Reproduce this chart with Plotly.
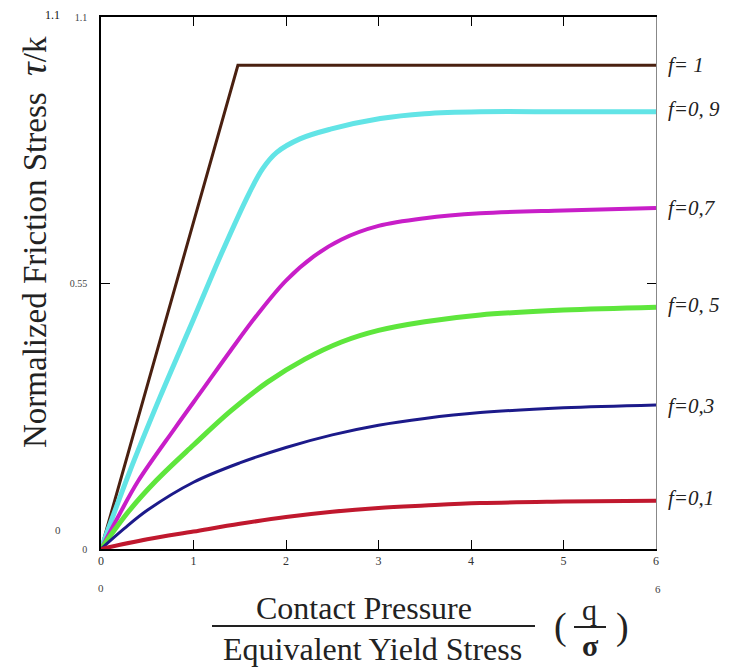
import plotly.graph_objects as go

# ---- data ----
x_f10 = [0, 1.48, 6]
y_f10 = [0, 1.0, 1.0]

x_f09 = [0, 0.3, 0.64, 1.0, 1.3, 1.6, 1.75, 1.9, 2.15, 2.48, 3.02, 3.5, 4.1, 5.0, 6.0]
y_f09 = [0, 0.155, 0.315, 0.475, 0.61, 0.735, 0.787, 0.82, 0.848, 0.868, 0.89, 0.9, 0.904, 0.904, 0.904]

x_f07 = [0, 0.2, 0.4, 0.8, 1.1, 1.4, 1.7, 2.0, 2.3, 2.6, 3.0, 3.5, 4.1, 5.0, 6.0]
y_f07 = [0, 0.072, 0.14, 0.25, 0.33, 0.41, 0.487, 0.555, 0.605, 0.64, 0.668, 0.684, 0.694, 0.70, 0.705]

x_f05 = [0, 0.3, 0.6, 1.0, 1.4, 1.8, 2.2, 2.6, 3.0, 3.5, 4.1, 5.0, 6.0]
y_f05 = [0, 0.078, 0.142, 0.215, 0.285, 0.345, 0.392, 0.428, 0.452, 0.47, 0.484, 0.494, 0.50]

x_f03 = [0, 0.25, 0.5, 1.0, 1.5, 2.0, 2.5, 3.0, 3.5, 4.1, 5.0, 6.0]
y_f03 = [0, 0.042, 0.08, 0.138, 0.178, 0.21, 0.236, 0.256, 0.27, 0.282, 0.292, 0.298]

x_f01 = [0, 0.5, 1.0, 1.5, 2.0, 2.5, 3.0, 3.5, 4.1, 5.0, 6.0]
y_f01 = [0, 0.02, 0.036, 0.052, 0.066, 0.077, 0.085, 0.09, 0.095, 0.098, 0.10]

labels = ["f= 1", "f=0, 9", "f=0,7", "f=0, 5", "f=0,3", "f=0,1"]
label_y = [1.0, 0.91, 0.705, 0.505, 0.295, 0.105]

x_ticks = [0, 1, 2, 3, 4, 5, 6]
y_ticks = [0, 0.55, 1.1]
y_ticktext = ["0", "0.55", "1.1"]

series = [
    (x_f10, y_f10, "#4a2010", 3, "linear"),
    (x_f09, y_f09, "#62e4e6", 5, "spline"),
    (x_f07, y_f07, "#c81ec8", 4, "spline"),
    (x_f05, y_f05, "#5ee63c", 5, "spline"),
    (x_f03, y_f03, "#1c1a8a", 3, "spline"),
    (x_f01, y_f01, "#c0182e", 4, "spline"),
]

fig = go.Figure()
for xs, ys, col, w, shp in series:
    fig.add_trace(go.Scatter(x=xs, y=ys, mode="lines",
                             line=dict(color=col, width=w, shape=shp, smoothing=1.0),
                             showlegend=False, hoverinfo="skip"))

# invisible trace so the right-hand y axis is drawn
fig.add_trace(go.Scatter(x=[0], y=[0], yaxis="y2", mode="markers",
                         marker=dict(opacity=0), showlegend=False, hoverinfo="skip"))

SERIF = "Liberation Serif, Times New Roman, serif"

# page body has an 8px margin: work in screen pixels and shift
OFF = 8
W, H = 739 - OFF, 667 - OFF
L, T = 101 - OFF, 17 - OFF
pw, ph = 555, 532
R, B = W - L - pw, H - T - ph


def px(x):
    return (x - OFF - L) / pw


def py(y):
    return (H - B - (y - OFF)) / ph


fig.update_layout(
    width=W, height=H,
    margin=dict(l=L, r=R, t=T, b=B, autoexpand=False),
    paper_bgcolor="white", plot_bgcolor="white",
    xaxis=dict(range=[0, 6], tickvals=x_ticks, ticks="inside", ticklen=9,
               tickcolor="black", showline=True, linecolor="black", linewidth=1.5,
               mirror="ticks", showgrid=False, zeroline=False,
               tickfont=dict(family=SERIF, size=12, color="#333")),
    yaxis=dict(range=[0, 1.1], tickvals=y_ticks, ticktext=y_ticktext, ticks="inside",
               ticklen=9, tickcolor="black", showline=True, linecolor="black",
               linewidth=1.5, showgrid=False, zeroline=False,
               ticklabelstandoff=10,
               tickfont=dict(family=SERIF, size=10, color="#444")),
    yaxis2=dict(range=[0, 1.1], overlaying="y", side="right", tickvals=[0.55],
                ticks="inside", ticklen=9, tickcolor="black", showticklabels=False,
                showline=True, linecolor="#888", linewidth=1, showgrid=False,
                zeroline=False),
)

ann = []
for t, yv in zip(labels, label_y):
    ann.append(dict(x=6, y=yv, xref="x", yref="y", text="<i>" + t + "</i>",
                    xanchor="left", yanchor="middle", xshift=10, showarrow=False,
                    font=dict(family=SERIF, size=21, color="#222")))

# extra range labels
extra = [("1.1", 52, 15, 12, "#111"), ("0", 58, 530, 11, "#444"),
         ("0", 101, 588, 11, "#444"), ("6", 658, 589, 11, "#444")]
for t, x, y, s, c in extra:
    ann.append(dict(x=px(x), y=py(y), xref="paper", yref="paper", text=t,
                    xanchor="center", yanchor="middle", showarrow=False,
                    font=dict(family=SERIF, size=s, color=c)))

# y title
ann.append(dict(x=px(33), y=py(242), xref="paper", yref="paper",
                text="Normalized Friction Stress  <span style='font-size:38px'><i>τ</i></span>/k",
                textangle=-90,
                xanchor="center", yanchor="middle", showarrow=False,
                font=dict(family=SERIF, size=33, color="#222")))

# x title (fraction)
ann.append(dict(x=px(364), y=py(608), xref="paper", yref="paper",
                text="Contact Pressure", xanchor="center", yanchor="middle",
                showarrow=False, font=dict(family=SERIF, size=32, color="#222")))
ann.append(dict(x=px(372), y=py(649), xref="paper", yref="paper",
                text="Equivalent Yield Stress", xanchor="center", yanchor="middle",
                showarrow=False, font=dict(family=SERIF, size=32, color="#222")))
ann.append(dict(x=px(560), y=py(626), xref="paper", yref="paper", text="(",
                xanchor="center", yanchor="middle", showarrow=False,
                font=dict(family=SERIF, size=38, color="#222")))
ann.append(dict(x=px(622), y=py(626), xref="paper", yref="paper", text=")",
                xanchor="center", yanchor="middle", showarrow=False,
                font=dict(family=SERIF, size=38, color="#222")))
ann.append(dict(x=px(589), y=py(609), xref="paper", yref="paper", text="q",
                xanchor="center", yanchor="middle", showarrow=False,
                font=dict(family=SERIF, size=30, color="#222")))
ann.append(dict(x=px(590), y=py(645), xref="paper", yref="paper", text="<b>σ</b>",
                xanchor="center", yanchor="middle", showarrow=False,
                font=dict(family=SERIF, size=30, color="#222")))

fig.update_layout(annotations=ann)

fig.add_shape(type="line", xref="paper", yref="paper",
              x0=px(212), x1=px(535), y0=py(626), y1=py(626),
              line=dict(color="#222", width=2))
fig.add_shape(type="line", xref="paper", yref="paper",
              x0=px(574), x1=px(606), y0=py(627), y1=py(627),
              line=dict(color="#222", width=2))

fig.write_html("out.html")
